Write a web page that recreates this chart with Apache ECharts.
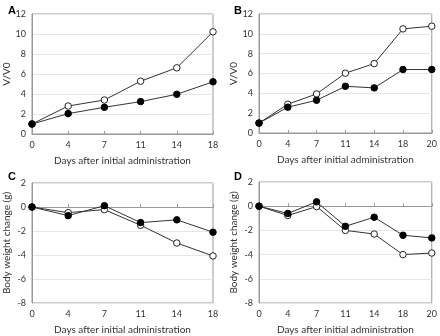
<!DOCTYPE html>
<html><head><meta charset="utf-8">
<script src="https://cdn.jsdelivr.net/npm/echarts@6/dist/echarts.min.js"></script>
<style>html,body{margin:0;padding:0;background:#fff}#c{width:440px;height:336px}</style>
</head><body><div id="c"></div>
<script>
const daysA = ['0','4','7','11','14','18'];
const daysB = ['0','4','7','11','14','18','20'];
const aOpen = [1.0, 2.8, 3.4, 5.28, 6.62, 10.22];
const aFilled = [1.0, 2.04, 2.67, 3.24, 3.97, 5.22];
const bOpen = [1.0, 2.9, 3.94, 6.03, 7.0, 10.5, 10.77];
const bFilled = [1.0, 2.6, 3.3, 4.71, 4.55, 6.4, 6.4];
const cOpen = [0, -0.47, -0.22, -1.52, -3.0, -4.08];
const cFilled = [0, -0.72, 0.11, -1.3, -1.07, -2.1];
const dOpen = [0, -0.77, -0.03, -2.0, -2.3, -4.0, -3.87];
const dFilled = [0, -0.6, 0.36, -1.66, -0.91, -2.4, -2.62];
const panelLetters = ['A','B','C','D'];
const xName = 'Days after initial administration';
const yNameTop = 'V/V0';
const yNameBottom = 'Body weight change (g)';

const font = 'Lato, "Open Sans", sans-serif';
const grids = [
  {left:32, top:14, width:181, height:120},
  {left:259, top:14, width:175, height:119},
  {left:32, top:183, width:181, height:120},
  {left:259, top:182, width:175, height:121}
];
const cats = [daysA, daysB, daysA, daysB];
const yCfg = [
  {min:0,max:12,name:yNameTop,gap:20},
  {min:0,max:12,name:yNameTop,gap:20},
  {min:-8,max:2,name:yNameBottom,gap:20},
  {min:-8,max:2,name:yNameBottom,gap:20}
];
const data = [[aOpen,aFilled],[bOpen,bFilled],[cOpen,cFilled],[dOpen,dFilled]];

const option = {
  animation:false,
  title: panelLetters.map((t,i)=>({text:t, left:[3,229,3,229][i], top:[0,0,166,166][i],
    textStyle:{fontSize:11,fontWeight:'bold',color:'#000',fontFamily:'"Liberation Sans", Arial, sans-serif'}})),
  grid: grids.map(g=>Object.assign({show:true,borderColor:'#999',borderWidth:1,backgroundColor:'#fff'},g)),
  xAxis: cats.map((c,i)=>({type:'category',gridIndex:i,data:c,boundaryGap:false,
    name:xName,nameLocation:'middle',nameGap:22,
    nameTextStyle:{fontSize:10,color:'#333',fontFamily:font},
    axisLine:{lineStyle:{color:'#999'}},
    axisTick:{inside:true,length:3,lineStyle:{color:'#999'}},
    axisLabel:{fontSize:9,color:'#333',margin:7,fontFamily:font},
    splitLine:{show:false}})),
  yAxis: yCfg.map((y,i)=>({type:'value',gridIndex:i,min:y.min,max:y.max,interval:2,
    name:y.name,nameLocation:'middle',nameGap:y.gap,nameRotate:90,
    nameTextStyle:{fontSize:10,color:'#333',fontFamily:font},
    axisLine:{show:true,lineStyle:{color:'#999'}},
    axisTick:{show:false},
    axisLabel:{fontSize:9,color:'#333',margin:6,fontFamily:font},
    splitLine:{show:true,lineStyle:{color:'#e6e6e6',width:1}}})),
  series: []
};
data.forEach((pair,i)=>{
  option.series.push({type:'line',xAxisIndex:i,yAxisIndex:i,data:pair[0],
    symbol:'circle',symbolSize:6.5,lineStyle:{color:'#333',width:1},
    itemStyle:{color:'#fff',borderColor:'#222',borderWidth:1},z:2});
  option.series.push({type:'line',xAxisIndex:i,yAxisIndex:i,data:pair[1],
    symbol:'circle',symbolSize:6.5,lineStyle:{color:'#333',width:1},
    itemStyle:{color:'#000',borderColor:'#000',borderWidth:1},z:3});
});
echarts.init(document.getElementById('c'),null,{renderer:'canvas'}).setOption(option);
</script></body></html>
